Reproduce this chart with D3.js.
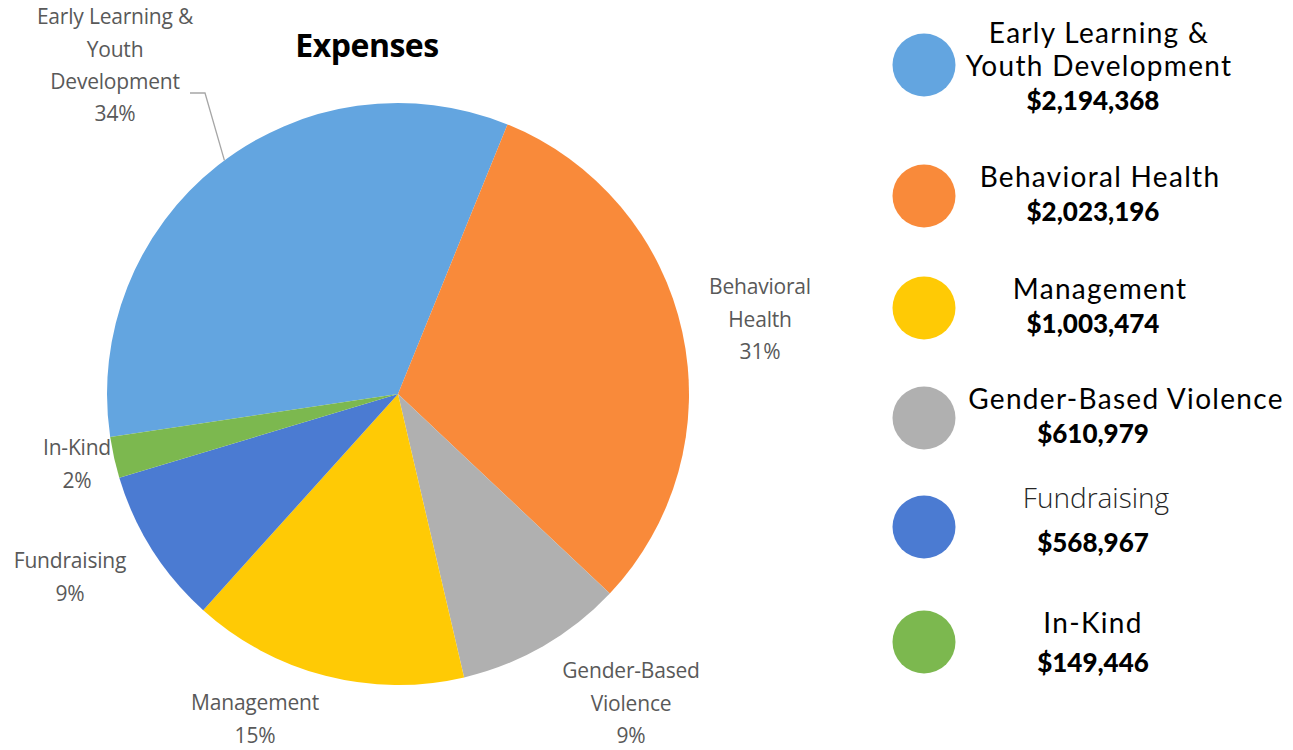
<!DOCTYPE html>
<html>
<head>
<meta charset="utf-8">
<script src="https://cdn.jsdelivr.net/npm/d3@7"></script>
<style>
  body { margin: 0; background: #fff; }
  svg { display: block; }
</style>
</head>
<body>
<div id="chart"><svg></svg></div>
<script>
const width = 1293;
const height = 750;

// data, legend order
const categories = ['Early Learning & Youth Development', 'Behavioral Health', 'Management',
  'Gender-Based Violence', 'Fundraising', 'In-Kind'];
const amounts = [2194368, 2023196, 1003474, 610979, 568967, 149446];
const percentLabels = ['34%', '31%', '15%', '9%', '9%', '2%'];
const colors = ['#63a5e0', '#f98a3a', '#ffca05', '#b0b0b0', '#4b7bd2', '#7cb84f'];
// order the slices go round the pie
const pieOrder = [0, 1, 3, 2, 4, 5];

// label text lines on the pie
const pieLabelLines = [
  ['Early Learning &', 'Youth', 'Development'],
  ['Behavioral', 'Health'],
  ['Management'],
  ['Gender-Based', 'Violence'],
  ['Fundraising'],
  ['In-Kind']
];
const legendLines = [
  ['Early Learning &', 'Youth Development'],
  ['Behavioral Health'],
  ['Management'],
  ['Gender-Based Violence'],
  ['Fundraising'],
  ['In-Kind']
];

// layout (positions only)
const cx = 398, cy = 394, radius = 291;
const labelPos = [[115, 17], [760, 287], [255, 703], [631, 671], [70, 561], [77, 448]];
const legendY = [65, 196, 308, 418, 527, 642];
const legendTitleX = [1099, 1100, 1100, 1126, 1096, 1093];
const legendTitleY = [[43, 76], [187], [299], [409], [508], [633]];
const legendNumY = [110, 221, 333, 443, 552, 672];

const svg = d3.select('#chart > svg')
  .attr('width', width)
  .attr('height', height);

const pie = d3.pie()
  .sort(null)
  .value(i => amounts[i])
  .startAngle(-98.5 * Math.PI / 180)
  .endAngle((360 - 98.5) * Math.PI / 180);

const arc = d3.arc().innerRadius(0).outerRadius(radius);

const g = svg.append('g').attr('transform', `translate(${cx},${cy})`);

g.selectAll('path.slice')
  .data(pie(pieOrder))
  .join('path')
  .attr('class', 'slice')
  .attr('d', arc)
  .attr('fill', d => colors[d.data]);

// title
svg.append('text')
  .attr('x', 367)
  .attr('y', 57)
  .attr('text-anchor', 'middle')
  .attr('font-family', '"Open Sans", sans-serif')
  .attr('font-weight', 700)
  .attr('font-size', 32)
  .attr('letter-spacing', -0.5)
  .attr('fill', '#000')
  .text('Expenses');

// leader line for the first label
const elArc = pie(pieOrder)[0];
const a = elArc.startAngle + 1.08;
const lx = cx + radius * Math.sin(a), ly = cy - radius * Math.cos(a);
svg.append('path')
  .attr('d', `M190,93 L205,93 L${lx},${ly}`)
  .attr('fill', 'none')
  .attr('stroke', '#a6a6a6')
  .attr('stroke-width', 1.3);

// pie labels
categories.forEach((c, i) => {
  const lines = pieLabelLines[i].concat([percentLabels[i]]);
  const t = svg.append('text')
    .attr('text-anchor', 'middle')
    .attr('font-family', '"Open Sans", sans-serif')
    .attr('font-size', 21)
    .attr('letter-spacing', -0.2)
    .attr('fill', '#595959');
  lines.forEach((l, k) => {
    t.append('tspan')
      .attr('x', labelPos[i][0])
      .attr('y', labelPos[i][1] + k * 32.3)
      .attr('dy', '0.35em')
      .text(l);
  });
});

// legend
const legend = svg.append('g');
categories.forEach((c, i) => {
  legend.append('circle')
    .attr('cx', 924)
    .attr('cy', legendY[i])
    .attr('r', 31.5)
    .attr('fill', colors[i]);

  const isLight = c === 'Fundraising';
  legendLines[i].forEach((l, k) => {
    legend.append('text')
      .attr('x', legendTitleX[i])
      .attr('y', legendTitleY[i][k])
      .attr('text-anchor', 'middle')
      .attr('font-family', isLight ? '"Open Sans", sans-serif' : 'Lato, sans-serif')
      .attr('font-weight', isLight ? 300 : 400)
      .attr('font-size', 28)
      .attr('letter-spacing', isLight ? 0 : 1.3)
      .attr('fill', isLight ? '#262626' : '#000')
      .text(l);
  });

  legend.append('text')
    .attr('x', 1093)
    .attr('y', legendNumY[i])
    .attr('text-anchor', 'middle')
    .attr('font-family', 'Lato, sans-serif')
    .attr('font-weight', 900)
    .attr('font-size', 26)
    .attr('fill', '#000')
    .text('$' + d3.format(',')(amounts[i]));
});
</script>
</body>
</html>
